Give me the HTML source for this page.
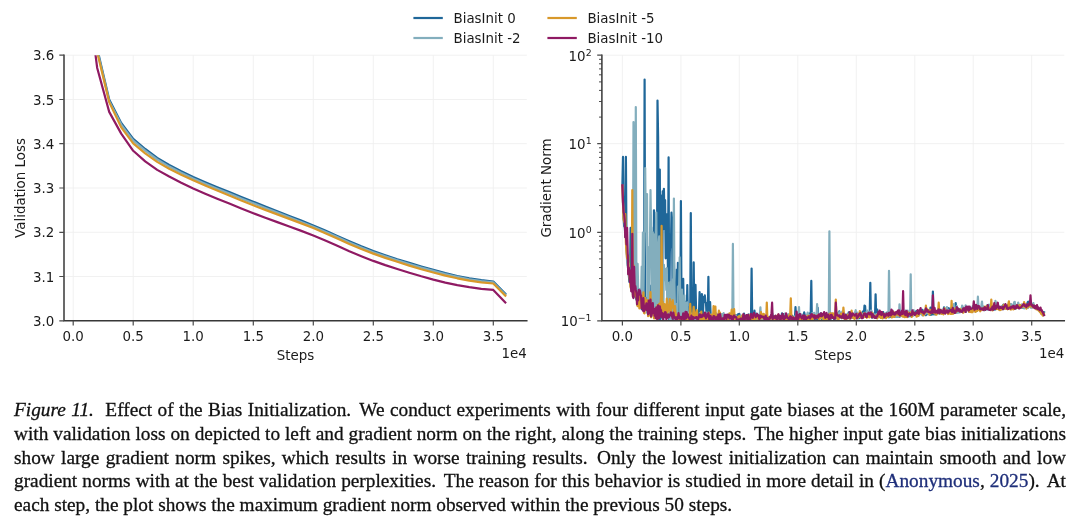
<!DOCTYPE html>
<html lang="en">
<head>
<meta charset="utf-8">
<title>Figure 11</title>
<style>
html,body{margin:0;padding:0;background:#fff;}
body{width:1080px;height:522px;position:relative;overflow:hidden;}
.ln{position:absolute;left:14px;width:1052px;height:24px;line-height:24px;white-space:nowrap;
 font-family:"Liberation Serif","Times New Roman",serif;font-size:19.31px;color:#111;-webkit-text-stroke:0.3px #111;
 text-align:justify;text-align-last:justify;}
.ln.last{text-align:left;text-align-last:left;width:auto;}
.c{color:#1f2f7a;-webkit-text-stroke:0.3px #1f2f7a;}
.sp{display:inline-block;width:6px;}
.s2{display:inline-block;width:3px;}
</style>
</head>
<body>
<svg width="1080" height="390" viewBox="0 0 1080 390" style="position:absolute;left:0;top:0" font-family="'DejaVu Sans', 'Liberation Sans', sans-serif" font-size="13.4" fill="#1a1a1a">
<defs><clipPath id="cl"><rect x="64.0" y="55.2" width="462.8" height="265.6"/></clipPath><clipPath id="cr"><rect x="601.9" y="55.2" width="462.4" height="265.6"/></clipPath></defs>
<path d="M73.2,55.2V320.8M622.4,55.2V320.8M133.2,55.2V320.8M680.9,55.2V320.8M193.2,55.2V320.8M739.3,55.2V320.8M253.3,55.2V320.8M797.8,55.2V320.8M313.3,55.2V320.8M856.3,55.2V320.8M373.3,55.2V320.8M914.8,55.2V320.8M433.3,55.2V320.8M973.2,55.2V320.8M493.3,55.2V320.8M1031.7,55.2V320.8M64.0,320.8H526.8M64.0,276.5H526.8M64.0,232.3H526.8M64.0,188.0H526.8M64.0,143.7H526.8M64.0,99.5H526.8M64.0,55.2H526.8M601.9,320.8H1064.3M601.9,232.3H1064.3M601.9,143.7H1064.3M601.9,55.2H1064.3" stroke="#efefef" stroke-width="0.9" fill="none"/>
<g clip-path="url(#cl)" fill="none" stroke-width="2.2" stroke-linejoin="round" stroke-linecap="square">
<path d="M85.2,-99.7L97.2,48.6L109.2,99.5L121.2,122.9L133.2,138.9L145.2,149.0L157.2,157.9L169.2,165.0L181.2,171.2L193.2,176.9L205.2,182.2L217.2,187.2L229.3,192.1L241.3,196.9L253.3,201.7L265.3,206.5L277.3,211.2L289.3,215.9L301.3,220.6L313.3,225.4L325.3,230.6L337.3,235.9L349.3,241.2L361.3,246.3L373.3,251.0L385.3,255.2L397.3,259.2L409.3,262.9L421.3,266.5L433.3,269.9L445.3,273.1L457.3,276.0L469.3,278.3L481.3,280.2L493.3,281.5L505.3,293.8" stroke="#1f6799"/>
<path d="M85.2,-95.3L97.2,50.3L109.2,101.2L121.2,124.6L133.2,140.6L145.2,150.7L157.2,159.5L169.2,166.6L181.2,172.8L193.2,178.5L205.2,183.7L217.2,188.7L229.3,193.6L241.3,198.4L253.3,203.2L265.3,207.9L277.3,212.6L289.3,217.2L301.3,221.9L313.3,226.8L325.3,231.8L337.3,237.1L349.3,242.5L361.3,247.5L373.3,252.2L385.3,256.4L397.3,260.3L409.3,264.0L421.3,267.6L433.3,270.9L445.3,274.1L457.3,276.9L469.3,279.3L481.3,281.1L493.3,282.4L505.3,294.7" stroke="#83aebd"/>
<path d="M85.2,-90.9L97.2,52.1L109.2,102.1L121.2,127.4L133.2,143.3L145.2,153.3L157.2,161.9L169.2,168.7L181.2,174.7L193.2,180.3L205.2,185.6L217.2,190.6L229.3,195.6L241.3,200.4L253.3,205.3L265.3,209.9L277.3,214.4L289.3,218.9L301.3,223.4L313.3,228.1L325.3,233.2L337.3,238.6L349.3,243.9L361.3,249.0L373.3,253.6L385.3,257.9L397.3,261.8L409.3,265.6L421.3,269.2L433.3,272.5L445.3,275.6L457.3,278.3L469.3,280.6L481.3,282.3L493.3,283.5L505.3,295.8" stroke="#d8982a"/>
<path d="M85.2,-24.5L97.2,68.0L109.2,111.9L121.2,133.6L133.2,150.8L145.2,161.4L157.2,169.9L169.2,176.5L181.2,182.7L193.2,188.4L205.2,193.7L217.2,198.7L229.3,203.6L241.3,208.4L253.3,213.2L265.3,217.7L277.3,222.1L289.3,226.5L301.3,230.9L313.3,235.5L325.3,240.5L337.3,245.8L349.3,251.2L361.3,256.2L373.3,260.9L385.3,265.1L397.3,269.0L409.3,272.7L421.3,276.3L433.3,279.6L445.3,282.6L457.3,285.2L469.3,287.2L481.3,288.9L493.3,289.9L505.3,302.5" stroke="#8f1a63"/>
</g>
<g clip-path="url(#cr)" fill="none" stroke-width="2.2" stroke-linejoin="round" stroke-linecap="square">
<path d="M622.4,185.2L623.0,156.9L623.6,218.0L624.2,226.3L624.7,222.4L625.3,237.1L625.9,156.9L626.5,246.6L627.1,255.8L627.7,262.4L628.2,270.2L628.8,274.8L629.4,281.8L630.0,279.9L630.6,227.9L631.2,273.0L631.8,278.9L632.3,284.0L632.9,294.4L633.5,281.3L634.1,292.4L634.7,293.8L635.3,296.7L635.8,295.1L636.4,299.5L637.0,298.2L637.6,305.2L638.2,300.7L638.8,288.8L639.4,301.7L639.9,302.6L640.5,298.2L641.1,297.4L641.7,309.2L642.3,304.3L642.9,297.9L643.4,302.6L644.0,304.0L644.6,79.6L645.2,309.7L645.8,305.4L646.4,309.7L647.0,297.8L647.5,313.0L648.1,311.4L648.7,310.7L649.3,304.3L649.9,285.6L650.5,300.9L651.1,316.4L651.6,305.1L652.2,310.9L652.8,313.3L653.4,306.9L654.0,210.3L654.6,317.9L655.1,258.9L655.7,263.0L656.3,316.4L656.9,311.0L657.5,100.5L658.1,136.7L658.7,243.1L659.2,319.6L659.8,169.6L660.4,319.0L661.0,211.8L661.6,195.5L662.2,317.8L662.7,191.3L663.3,229.3L663.9,188.8L664.5,220.5L665.1,200.2L665.7,258.3L666.3,214.2L666.8,254.0L667.4,228.7L668.0,274.6L668.6,157.4L669.2,320.3L669.8,253.3L670.3,235.8L670.9,247.1L671.5,212.5L672.1,220.0L672.7,315.5L673.3,318.8L673.9,261.0L674.4,280.7L675.0,316.6L675.6,318.7L676.2,317.8L676.8,269.5L677.4,302.7L677.9,262.8L678.5,318.9L679.1,316.1L679.7,302.7L680.3,318.5L680.9,201.1L681.5,304.6L682.0,315.6L682.6,300.5L683.2,278.8L683.8,313.1L684.4,312.0L685.0,301.5L685.5,318.6L686.1,307.7L686.7,318.7L687.3,285.1L687.9,317.4L688.5,307.0L689.1,320.4L689.6,318.0L690.2,316.2L690.8,213.0L691.4,319.0L692.0,320.3L692.6,318.3L693.1,320.2L693.7,262.4L694.3,320.0L694.9,309.6L695.5,284.8L696.1,312.0L696.7,318.5L697.2,314.3L697.8,318.3L698.4,317.0L699.0,312.7L699.6,292.2L700.2,318.2L700.7,308.0L701.3,317.4L701.9,294.1L702.5,318.9L703.1,310.3L703.7,296.8L704.3,300.4L704.8,295.4L705.4,302.5L706.0,302.7L706.6,315.8L707.2,319.5L707.8,314.4L708.4,276.8L708.9,317.2L709.5,314.7L710.1,302.1L710.7,315.7L711.3,320.4L711.9,318.9L712.4,317.4L713.0,316.8L713.6,318.2L714.2,317.4L714.8,318.6L715.4,318.5L716.0,319.1L716.5,320.8L717.1,319.2L717.7,317.0L718.3,320.0L718.9,318.6L719.5,317.0L720.0,320.3L720.6,318.5L721.2,320.7L721.8,314.5L722.4,314.7L723.0,314.6L723.6,318.4L724.1,316.7L724.7,317.8L725.3,318.1L725.9,315.5L726.5,320.3L727.1,316.1L727.6,317.6L728.2,314.7L728.8,315.8L729.4,318.3L730.0,317.0L730.6,315.2L731.2,318.0L731.7,316.7L732.3,318.1L732.9,320.5L733.5,313.7L734.1,315.3L734.7,316.1L735.2,316.5L735.8,315.1L736.4,317.8L737.0,318.5L737.6,317.1L738.2,314.1L738.8,318.3L739.3,313.9L739.9,315.9L740.5,319.8L741.1,316.4L741.7,318.8L742.3,320.8L742.8,319.4L743.4,317.3L744.0,313.6L744.6,320.3L745.2,318.4L745.8,317.6L746.4,319.8L746.9,318.0L747.5,319.4L748.1,320.7L748.7,320.6L749.3,319.6L749.9,319.3L750.4,319.7L751.0,319.3L751.6,268.5L752.2,318.6L752.8,317.8L753.4,317.4L754.0,318.3L754.5,310.7L755.1,319.5L755.7,316.2L756.3,317.6L756.9,313.7L757.5,314.4L758.1,320.8L758.6,319.8L759.2,317.4L759.8,317.3L760.4,317.2L761.0,318.3L761.6,317.0L762.1,316.4L762.7,317.9L763.3,316.3L763.9,320.8L764.5,319.2L765.1,320.8L765.7,319.8L766.2,320.8L766.8,320.8L767.4,318.4L768.0,320.1L768.6,319.9L769.2,320.8L769.7,317.9L770.3,316.9L770.9,315.7L771.5,317.6L772.1,313.2L772.7,317.2L773.3,317.5L773.8,316.7L774.4,316.1L775.0,318.6L775.6,318.6L776.2,318.4L776.8,317.0L777.3,319.9L777.9,316.2L778.5,318.4L779.1,315.9L779.7,317.9L780.3,316.4L780.9,316.7L781.4,318.9L782.0,313.3L782.6,318.0L783.2,314.0L783.8,316.9L784.4,319.1L784.9,318.6L785.5,316.8L786.1,315.8L786.7,316.5L787.3,316.9L787.9,320.1L788.5,318.0L789.0,320.4L789.6,317.0L790.2,318.0L790.8,317.4L791.4,316.3L792.0,315.6L792.5,319.2L793.1,320.1L793.7,319.0L794.3,320.3L794.9,318.3L795.5,307.1L796.1,318.5L796.6,315.8L797.2,319.4L797.8,316.5L798.4,317.2L799.0,316.9L799.6,316.2L800.1,314.5L800.7,316.4L801.3,317.5L801.9,319.1L802.5,316.4L803.1,318.0L803.7,316.5L804.2,312.4L804.8,315.5L805.4,320.1L806.0,317.1L806.6,315.8L807.2,317.4L807.7,317.9L808.3,316.8L808.9,319.1L809.5,316.9L810.1,313.2L810.7,315.3L811.3,280.9L811.8,317.9L812.4,316.9L813.0,314.9L813.6,318.5L814.2,319.0L814.8,316.5L815.4,316.7L815.9,318.4L816.5,318.7L817.1,319.1L817.7,307.9L818.3,318.8L818.9,313.8L819.4,316.2L820.0,314.8L820.6,313.4L821.2,315.0L821.8,319.0L822.4,315.3L823.0,314.4L823.5,317.7L824.1,318.5L824.7,317.5L825.3,319.5L825.9,314.6L826.5,319.0L827.0,318.4L827.6,316.9L828.2,316.9L828.8,314.9L829.4,315.6L830.0,316.0L830.6,313.2L831.1,318.7L831.7,315.5L832.3,317.6L832.9,317.2L833.5,317.5L834.1,319.1L834.6,318.6L835.2,315.5L835.8,316.1L836.4,318.0L837.0,313.7L837.6,312.9L838.2,318.7L838.7,314.9L839.3,311.4L839.9,314.2L840.5,315.8L841.1,317.2L841.7,318.0L842.2,317.5L842.8,317.9L843.4,314.7L844.0,316.5L844.6,315.8L845.2,316.6L845.8,314.7L846.3,316.5L846.9,315.7L847.5,314.3L848.1,316.0L848.7,312.4L849.3,316.6L849.8,316.8L850.4,316.3L851.0,316.4L851.6,314.5L852.2,317.6L852.8,314.1L853.4,316.3L853.9,317.2L854.5,316.1L855.1,316.4L855.7,315.1L856.3,316.9L856.9,314.0L857.4,317.4L858.0,318.3L858.6,316.8L859.2,318.2L859.8,314.6L860.4,312.7L861.0,313.5L861.5,316.9L862.1,316.2L862.7,311.7L863.3,313.6L863.9,314.1L864.5,305.5L865.1,306.0L865.6,313.5L866.2,315.9L866.8,315.4L867.4,314.4L868.0,316.4L868.6,316.8L869.1,315.3L869.7,316.8L870.3,282.8L870.9,315.9L871.5,312.2L872.1,317.6L872.7,316.6L873.2,316.8L873.8,315.8L874.4,314.6L875.0,316.8L875.6,294.3L876.2,317.8L876.7,317.3L877.3,309.5L877.9,315.4L878.5,316.6L879.1,315.3L879.7,314.3L880.3,313.8L880.8,315.7L881.4,315.2L882.0,317.5L882.6,316.5L883.2,312.0L883.8,317.5L884.3,315.4L884.9,314.6L885.5,315.5L886.1,316.1L886.7,314.9L887.3,315.0L887.9,315.4L888.4,317.2L889.0,316.2L889.6,317.2L890.2,316.8L890.8,315.1L891.4,314.4L891.9,314.3L892.5,316.6L893.1,314.4L893.7,313.9L894.3,313.4L894.9,312.8L895.5,315.1L896.0,314.9L896.6,313.5L897.2,316.8L897.8,314.9L898.4,316.3L899.0,315.6L899.5,316.7L900.1,315.3L900.7,313.6L901.3,311.7L901.9,311.6L902.5,313.5L903.1,314.0L903.6,316.0L904.2,314.5L904.8,315.6L905.4,314.0L906.0,310.9L906.6,314.3L907.1,316.4L907.7,316.0L908.3,316.3L908.9,316.3L909.5,312.6L910.1,313.9L910.7,316.2L911.2,313.2L911.8,312.4L912.4,315.1L913.0,315.5L913.6,314.5L914.2,312.8L914.8,312.3L915.3,311.8L915.9,312.3L916.5,311.1L917.1,312.2L917.7,313.0L918.3,315.8L918.8,313.8L919.4,312.2L920.0,313.5L920.6,310.7L921.2,312.2L921.8,313.0L922.4,309.8L922.9,311.7L923.5,312.9L924.1,312.2L924.7,310.3L925.3,312.8L925.9,315.2L926.4,313.8L927.0,313.3L927.6,314.2L928.2,312.6L928.8,311.5L929.4,314.1L930.0,314.8L930.5,307.7L931.1,313.5L931.7,314.7L932.3,312.9L932.9,291.5L933.5,314.3L934.0,312.5L934.6,314.2L935.2,314.4L935.8,312.6L936.4,311.4L937.0,313.4L937.6,312.0L938.1,312.8L938.7,308.7L939.3,313.7L939.9,310.6L940.5,310.7L941.1,312.4L941.6,311.0L942.2,310.5L942.8,310.1L943.4,311.3L944.0,307.4L944.6,312.6L945.2,310.7L945.7,310.5L946.3,309.3L946.9,310.5L947.5,309.8L948.1,309.0L948.7,308.1L949.2,313.0L949.8,312.5L950.4,312.8L951.0,308.4L951.6,311.4L952.2,308.7L952.8,309.7L953.3,308.9L953.9,309.8L954.5,311.9L955.1,312.4L955.7,303.1L956.3,311.9L956.8,312.5L957.4,311.2L958.0,308.5L958.6,312.0L959.2,309.1L959.8,310.2L960.4,309.2L960.9,308.9L961.5,310.5L962.1,309.9L962.7,312.2L963.3,308.9L963.9,310.7L964.4,309.0L965.0,309.4L965.6,312.0L966.2,310.4L966.8,309.0L967.4,307.3L968.0,308.6L968.5,308.9L969.1,311.4L969.7,308.3L970.3,308.2L970.9,310.3L971.5,310.4L972.1,311.5L972.6,309.0L973.2,307.1L973.8,309.7L974.4,307.9L975.0,310.1L975.6,311.2L976.1,308.4L976.7,310.9L977.3,309.3L977.9,308.9L978.5,308.4L979.1,309.1L979.7,309.3L980.2,310.0L980.8,310.0L981.4,306.7L982.0,308.2L982.6,308.8L983.2,307.0L983.7,308.5L984.3,310.2L984.9,309.6L985.5,309.7L986.1,307.4L986.7,307.0L987.3,305.3L987.8,309.3L988.4,308.3L989.0,306.5L989.6,307.2L990.2,308.0L990.8,306.0L991.3,308.3L991.9,309.2L992.5,309.4L993.1,307.6L993.7,308.0L994.3,309.7L994.9,309.6L995.4,307.8L996.0,307.4L996.6,308.3L997.2,306.6L997.8,306.4L998.4,308.0L998.9,307.4L999.5,306.8L1000.1,308.0L1000.7,309.3L1001.3,308.1L1001.9,306.8L1002.5,305.9L1003.0,309.2L1003.6,304.5L1004.2,308.7L1004.8,306.3L1005.4,306.0L1006.0,306.1L1006.5,306.7L1007.1,307.7L1007.7,305.1L1008.3,306.2L1008.9,308.0L1009.5,304.0L1010.1,305.2L1010.6,304.4L1011.2,307.7L1011.8,305.4L1012.4,305.5L1013.0,305.9L1013.6,307.8L1014.1,308.6L1014.7,308.1L1015.3,308.6L1015.9,308.5L1016.5,306.7L1017.1,307.6L1017.7,306.7L1018.2,306.7L1018.8,304.7L1019.4,305.6L1020.0,307.0L1020.6,305.6L1021.2,307.5L1021.8,307.0L1022.3,305.7L1022.9,308.0L1023.5,307.2L1024.1,308.1L1024.7,306.8L1025.3,304.8L1025.8,306.8L1026.4,305.2L1027.0,306.0L1027.6,302.5L1028.2,301.7L1028.8,303.6L1029.4,303.2L1029.9,304.8L1030.5,306.1L1031.1,304.6L1031.7,305.4L1032.3,304.2L1032.9,304.6L1033.4,304.8L1034.0,305.0L1034.6,306.7L1035.2,307.2L1035.8,308.6L1036.4,307.4L1037.0,308.7L1037.5,307.9L1038.1,309.6L1038.7,309.3L1039.3,309.5L1039.9,311.6L1040.5,312.0L1041.0,312.8L1041.6,311.8L1042.2,311.4L1042.8,312.2L1043.4,313.7L1044.0,312.3" stroke="#1f6799"/>
<path d="M622.4,185.2L623.0,204.1L623.6,216.5L624.2,220.2L624.7,222.5L625.3,232.9L625.9,229.9L626.5,244.5L627.1,261.6L627.7,265.6L628.2,266.2L628.8,263.6L629.4,275.6L630.0,279.1L630.6,286.3L631.2,279.4L631.8,288.5L632.3,291.5L632.9,285.6L633.5,122.0L634.1,179.0L634.7,163.4L635.3,287.2L635.8,107.1L636.4,291.3L637.0,292.4L637.6,263.8L638.2,290.3L638.8,301.8L639.4,295.2L639.9,308.0L640.5,288.8L641.1,299.1L641.7,266.7L642.3,305.6L642.9,232.5L643.4,295.4L644.0,257.1L644.6,235.9L645.2,168.1L645.8,231.4L646.4,227.3L647.0,194.1L647.5,298.5L648.1,308.4L648.7,247.3L649.3,299.2L649.9,250.7L650.5,190.0L651.1,230.3L651.6,227.7L652.2,306.4L652.8,232.4L653.4,244.6L654.0,261.6L654.6,317.9L655.1,234.0L655.7,240.8L656.3,212.5L656.9,316.6L657.5,308.1L658.1,261.0L658.7,241.8L659.2,236.3L659.8,306.4L660.4,285.6L661.0,310.0L661.6,286.5L662.2,287.8L662.7,319.9L663.3,315.0L663.9,264.8L664.5,275.2L665.1,280.1L665.7,269.0L666.3,289.9L666.8,268.2L667.4,316.2L668.0,282.7L668.6,311.2L669.2,312.1L669.8,319.7L670.3,282.2L670.9,295.4L671.5,307.4L672.1,320.0L672.7,279.3L673.3,317.3L673.9,198.6L674.4,282.0L675.0,312.5L675.6,316.4L676.2,304.1L676.8,315.6L677.4,317.1L677.9,286.7L678.5,289.8L679.1,288.9L679.7,257.4L680.3,315.7L680.9,317.0L681.5,316.0L682.0,289.6L682.6,313.4L683.2,313.5L683.8,314.1L684.4,295.4L685.0,316.9L685.5,302.7L686.1,303.6L686.7,318.9L687.3,302.4L687.9,318.2L688.5,318.8L689.1,315.4L689.6,312.4L690.2,315.2L690.8,313.2L691.4,316.4L692.0,317.0L692.6,318.1L693.1,317.7L693.7,314.4L694.3,319.7L694.9,314.1L695.5,317.7L696.1,315.4L696.7,314.9L697.2,315.9L697.8,317.0L698.4,320.4L699.0,317.1L699.6,318.9L700.2,312.8L700.7,316.5L701.3,316.1L701.9,317.8L702.5,316.6L703.1,319.2L703.7,316.7L704.3,318.4L704.8,316.1L705.4,317.6L706.0,316.8L706.6,312.6L707.2,317.8L707.8,319.4L708.4,315.9L708.9,318.8L709.5,317.3L710.1,314.9L710.7,317.7L711.3,314.7L711.9,318.3L712.4,315.1L713.0,316.0L713.6,319.3L714.2,318.0L714.8,318.2L715.4,315.7L716.0,313.4L716.5,317.9L717.1,314.4L717.7,318.4L718.3,317.7L718.9,319.8L719.5,313.1L720.0,316.4L720.6,315.7L721.2,317.2L721.8,314.2L722.4,318.8L723.0,316.0L723.6,313.1L724.1,316.7L724.7,316.3L725.3,315.8L725.9,319.2L726.5,318.4L727.1,317.2L727.6,318.8L728.2,318.4L728.8,319.5L729.4,318.4L730.0,318.4L730.6,315.6L731.2,316.7L731.7,318.4L732.3,320.8L732.9,243.9L733.5,317.7L734.1,320.2L734.7,320.8L735.2,319.4L735.8,315.7L736.4,319.6L737.0,319.4L737.6,318.9L738.2,317.5L738.8,319.5L739.3,319.4L739.9,319.4L740.5,315.3L741.1,316.4L741.7,318.6L742.3,320.8L742.8,320.2L743.4,317.4L744.0,318.1L744.6,315.5L745.2,316.1L745.8,316.0L746.4,315.6L746.9,315.8L747.5,318.4L748.1,318.1L748.7,314.0L749.3,320.8L749.9,320.0L750.4,317.4L751.0,319.2L751.6,319.7L752.2,320.2L752.8,316.8L753.4,315.7L754.0,315.0L754.5,317.0L755.1,315.1L755.7,319.0L756.3,317.4L756.9,319.4L757.5,317.9L758.1,316.7L758.6,315.8L759.2,319.1L759.8,315.0L760.4,307.3L761.0,319.2L761.6,317.5L762.1,319.9L762.7,317.9L763.3,315.8L763.9,319.9L764.5,318.7L765.1,319.7L765.7,318.3L766.2,319.9L766.8,317.1L767.4,319.0L768.0,318.6L768.6,318.1L769.2,317.5L769.7,320.1L770.3,320.2L770.9,318.5L771.5,318.1L772.1,319.1L772.7,318.1L773.3,317.2L773.8,318.1L774.4,318.4L775.0,320.0L775.6,319.7L776.2,318.8L776.8,318.1L777.3,318.4L777.9,318.8L778.5,318.8L779.1,317.0L779.7,317.3L780.3,317.0L780.9,317.4L781.4,318.9L782.0,319.9L782.6,317.2L783.2,317.0L783.8,316.1L784.4,318.2L784.9,313.7L785.5,319.0L786.1,317.9L786.7,317.0L787.3,319.2L787.9,316.8L788.5,314.2L789.0,316.0L789.6,314.4L790.2,317.7L790.8,318.8L791.4,317.4L792.0,319.1L792.5,319.3L793.1,318.3L793.7,316.5L794.3,317.2L794.9,316.4L795.5,320.3L796.1,314.8L796.6,312.8L797.2,314.1L797.8,317.2L798.4,318.2L799.0,307.0L799.6,318.8L800.1,316.0L800.7,318.2L801.3,315.5L801.9,314.5L802.5,319.9L803.1,315.6L803.7,317.6L804.2,319.1L804.8,318.1L805.4,317.8L806.0,315.6L806.6,319.6L807.2,314.8L807.7,312.6L808.3,314.5L808.9,314.8L809.5,316.2L810.1,318.7L810.7,316.5L811.3,316.8L811.8,315.7L812.4,313.0L813.0,315.4L813.6,315.6L814.2,312.9L814.8,317.6L815.4,317.6L815.9,316.3L816.5,317.1L817.1,304.1L817.7,316.7L818.3,313.6L818.9,314.2L819.4,315.9L820.0,317.9L820.6,316.0L821.2,315.4L821.8,318.2L822.4,315.4L823.0,314.6L823.5,315.5L824.1,313.4L824.7,314.3L825.3,317.8L825.9,316.2L826.5,318.0L827.0,315.6L827.6,318.4L828.2,315.8L828.8,316.9L829.4,231.3L830.0,318.3L830.6,319.3L831.1,315.2L831.7,318.1L832.3,315.0L832.9,316.6L833.5,316.2L834.1,314.4L834.6,317.1L835.2,314.6L835.8,318.9L836.4,312.6L837.0,315.3L837.6,316.2L838.2,315.8L838.7,314.9L839.3,312.3L839.9,317.9L840.5,315.0L841.1,316.6L841.7,313.9L842.2,311.7L842.8,315.5L843.4,317.4L844.0,313.9L844.6,314.6L845.2,316.4L845.8,315.7L846.3,318.6L846.9,315.7L847.5,314.7L848.1,317.2L848.7,313.9L849.3,318.5L849.8,318.5L850.4,318.0L851.0,316.4L851.6,315.5L852.2,315.6L852.8,315.7L853.4,314.5L853.9,316.1L854.5,317.4L855.1,312.2L855.7,310.2L856.3,318.3L856.9,315.3L857.4,312.6L858.0,314.3L858.6,317.0L859.2,315.8L859.8,314.3L860.4,314.0L861.0,317.5L861.5,314.6L862.1,315.6L862.7,314.1L863.3,313.5L863.9,316.5L864.5,314.3L865.1,315.2L865.6,312.7L866.2,314.2L866.8,314.5L867.4,310.6L868.0,316.0L868.6,312.7L869.1,314.9L869.7,313.6L870.3,313.0L870.9,310.5L871.5,310.9L872.1,314.1L872.7,316.4L873.2,313.3L873.8,315.3L874.4,314.4L875.0,317.5L875.6,316.7L876.2,314.4L876.7,315.9L877.3,313.9L877.9,313.7L878.5,315.2L879.1,317.1L879.7,313.1L880.3,314.5L880.8,313.5L881.4,317.6L882.0,317.5L882.6,317.5L883.2,317.5L883.8,314.7L884.3,314.3L884.9,314.7L885.5,313.9L886.1,312.8L886.7,314.8L887.3,312.1L887.9,314.2L888.4,317.2L889.0,270.8L889.6,312.4L890.2,311.4L890.8,314.4L891.4,314.8L891.9,314.1L892.5,311.6L893.1,314.7L893.7,316.7L894.3,317.0L894.9,316.9L895.5,316.9L896.0,316.9L896.6,313.7L897.2,313.6L897.8,316.8L898.4,313.3L899.0,314.2L899.5,304.4L900.1,313.1L900.7,316.4L901.3,315.0L901.9,315.6L902.5,315.2L903.1,312.3L903.6,316.5L904.2,316.2L904.8,315.6L905.4,310.7L906.0,313.7L906.6,311.7L907.1,314.8L907.7,310.6L908.3,315.4L908.9,314.3L909.5,315.3L910.1,312.9L910.7,274.3L911.2,314.7L911.8,314.1L912.4,311.9L913.0,315.0L913.6,310.2L914.2,315.1L914.8,312.9L915.3,313.1L915.9,314.7L916.5,314.7L917.1,312.4L917.7,312.8L918.3,315.8L918.8,313.5L919.4,313.1L920.0,311.9L920.6,313.5L921.2,314.3L921.8,314.0L922.4,315.4L922.9,314.0L923.5,314.9L924.1,312.9L924.7,314.5L925.3,312.8L925.9,313.3L926.4,308.4L927.0,311.3L927.6,313.5L928.2,312.3L928.8,314.3L929.4,311.7L930.0,311.2L930.5,312.0L931.1,312.1L931.7,310.3L932.3,311.5L932.9,311.9L933.5,309.4L934.0,311.2L934.6,310.8L935.2,310.9L935.8,312.4L936.4,313.1L937.0,310.7L937.6,313.0L938.1,311.8L938.7,310.3L939.3,310.3L939.9,312.1L940.5,313.3L941.1,311.4L941.6,311.4L942.2,309.6L942.8,311.2L943.4,310.8L944.0,309.4L944.6,310.8L945.2,310.8L945.7,308.6L946.3,309.0L946.9,307.1L947.5,310.6L948.1,309.9L948.7,310.4L949.2,311.4L949.8,311.3L950.4,310.6L951.0,312.1L951.6,312.4L952.2,311.1L952.8,310.3L953.3,311.4L953.9,304.0L954.5,312.9L955.1,312.5L955.7,312.6L956.3,311.0L956.8,306.2L957.4,312.6L958.0,311.8L958.6,312.6L959.2,312.5L959.8,312.5L960.4,311.9L960.9,308.9L961.5,311.7L962.1,305.5L962.7,306.5L963.3,309.7L963.9,309.7L964.4,310.8L965.0,310.4L965.6,305.4L966.2,310.3L966.8,308.9L967.4,306.8L968.0,309.1L968.5,309.4L969.1,309.8L969.7,309.3L970.3,311.0L970.9,309.0L971.5,309.0L972.1,309.8L972.6,306.3L973.2,309.8L973.8,309.9L974.4,309.0L975.0,311.3L975.6,310.6L976.1,311.2L976.7,310.9L977.3,309.9L977.9,296.7L978.5,308.1L979.1,308.1L979.7,307.3L980.2,308.1L980.8,309.2L981.4,305.7L982.0,301.5L982.6,308.8L983.2,306.3L983.7,307.3L984.3,307.7L984.9,307.1L985.5,307.0L986.1,308.8L986.7,308.1L987.3,305.7L987.8,308.1L988.4,309.0L989.0,304.7L989.6,306.5L990.2,307.5L990.8,306.6L991.3,306.8L991.9,307.7L992.5,307.5L993.1,308.5L993.7,309.8L994.3,309.5L994.9,307.3L995.4,300.9L996.0,303.1L996.6,308.2L997.2,306.2L997.8,308.0L998.4,307.6L998.9,307.9L999.5,307.5L1000.1,308.8L1000.7,307.6L1001.3,308.8L1001.9,309.0L1002.5,306.5L1003.0,307.1L1003.6,308.9L1004.2,308.2L1004.8,307.4L1005.4,305.8L1006.0,306.4L1006.5,306.5L1007.1,308.2L1007.7,307.5L1008.3,305.4L1008.9,306.6L1009.5,306.0L1010.1,306.3L1010.6,304.0L1011.2,304.1L1011.8,306.2L1012.4,307.4L1013.0,304.5L1013.6,307.2L1014.1,302.3L1014.7,301.8L1015.3,306.1L1015.9,304.7L1016.5,305.7L1017.1,305.2L1017.7,305.8L1018.2,302.5L1018.8,306.0L1019.4,306.8L1020.0,305.7L1020.6,307.2L1021.2,307.2L1021.8,304.4L1022.3,307.6L1022.9,307.4L1023.5,306.5L1024.1,307.9L1024.7,308.1L1025.3,305.4L1025.8,307.6L1026.4,307.4L1027.0,307.4L1027.6,307.9L1028.2,307.9L1028.8,306.5L1029.4,304.2L1029.9,305.7L1030.5,305.9L1031.1,307.8L1031.7,306.3L1032.3,307.5L1032.9,305.1L1033.4,303.1L1034.0,306.5L1034.6,307.0L1035.2,308.2L1035.8,306.8L1036.4,306.9L1037.0,308.9L1037.5,308.9L1038.1,308.7L1038.7,310.1L1039.3,310.1L1039.9,310.2L1040.5,311.2L1041.0,311.8L1041.6,312.2L1042.2,311.7L1042.8,314.9L1043.4,313.0L1044.0,315.1" stroke="#83aebd"/>
<path d="M622.4,185.8L623.0,202.6L623.6,219.2L624.2,221.7L624.7,217.9L625.3,214.1L625.9,242.8L626.5,252.5L627.1,258.4L627.7,258.6L628.2,255.5L628.8,274.3L629.4,274.4L630.0,281.4L630.6,287.7L631.2,281.6L631.8,281.5L632.3,190.0L632.9,295.6L633.5,265.4L634.1,288.6L634.7,288.1L635.3,295.7L635.8,296.5L636.4,292.0L637.0,300.4L637.6,306.1L638.2,300.3L638.8,295.3L639.4,308.4L639.9,294.6L640.5,297.1L641.1,307.7L641.7,302.5L642.3,303.3L642.9,299.4L643.4,292.3L644.0,312.8L644.6,313.3L645.2,297.9L645.8,306.0L646.4,304.7L647.0,303.2L647.5,300.0L648.1,316.1L648.7,303.9L649.3,315.4L649.9,305.8L650.5,292.1L651.1,317.3L651.6,307.5L652.2,311.9L652.8,312.9L653.4,311.9L654.0,318.5L654.6,318.3L655.1,309.2L655.7,308.1L656.3,312.3L656.9,319.7L657.5,305.2L658.1,308.1L658.7,308.8L659.2,303.8L659.8,313.0L660.4,309.8L661.0,296.8L661.6,225.9L662.2,314.3L662.7,301.9L663.3,316.0L663.9,315.0L664.5,304.1L665.1,312.7L665.7,316.8L666.3,315.7L666.8,298.7L667.4,312.5L668.0,310.5L668.6,304.8L669.2,306.3L669.8,299.0L670.3,312.8L670.9,314.8L671.5,302.1L672.1,302.7L672.7,300.2L673.3,308.0L673.9,307.6L674.4,317.2L675.0,306.0L675.6,313.8L676.2,314.7L676.8,314.9L677.4,317.9L677.9,318.2L678.5,315.4L679.1,320.4L679.7,318.2L680.3,321.3L680.9,319.3L681.5,320.0L682.0,317.9L682.6,318.0L683.2,320.6L683.8,319.7L684.4,319.1L685.0,319.7L685.5,315.6L686.1,318.7L686.7,319.4L687.3,321.2L687.9,321.2L688.5,321.1L689.1,314.8L689.6,321.1L690.2,303.9L690.8,316.4L691.4,316.0L692.0,319.5L692.6,320.1L693.1,314.4L693.7,306.9L694.3,317.2L694.9,312.4L695.5,317.7L696.1,316.4L696.7,310.0L697.2,313.5L697.8,319.4L698.4,318.2L699.0,317.4L699.6,317.9L700.2,321.2L700.7,318.3L701.3,311.5L701.9,319.5L702.5,318.3L703.1,321.3L703.7,317.8L704.3,321.3L704.8,321.3L705.4,319.8L706.0,315.0L706.6,320.1L707.2,321.0L707.8,318.0L708.4,318.2L708.9,312.7L709.5,320.8L710.1,321.5L710.7,319.6L711.3,314.6L711.9,318.9L712.4,317.2L713.0,318.7L713.6,306.1L714.2,318.3L714.8,310.0L715.4,306.5L716.0,321.6L716.5,316.0L717.1,317.4L717.7,319.9L718.3,316.4L718.9,310.7L719.5,317.3L720.0,312.6L720.6,320.0L721.2,319.2L721.8,318.9L722.4,319.5L723.0,319.0L723.6,318.9L724.1,319.7L724.7,318.5L725.3,320.0L725.9,319.7L726.5,317.1L727.1,316.8L727.6,319.1L728.2,319.1L728.8,318.3L729.4,313.4L730.0,318.4L730.6,314.7L731.2,313.9L731.7,309.7L732.3,318.6L732.9,321.0L733.5,319.6L734.1,309.0L734.7,318.3L735.2,320.7L735.8,318.0L736.4,317.9L737.0,321.5L737.6,317.4L738.2,316.7L738.8,319.5L739.3,316.2L739.9,317.8L740.5,318.9L741.1,321.1L741.7,320.7L742.3,315.4L742.8,318.7L743.4,317.8L744.0,320.3L744.6,320.0L745.2,320.2L745.8,321.6L746.4,321.6L746.9,318.6L747.5,318.9L748.1,320.2L748.7,318.6L749.3,317.5L749.9,315.4L750.4,320.9L751.0,318.4L751.6,315.9L752.2,320.0L752.8,317.4L753.4,321.5L754.0,317.2L754.5,319.3L755.1,321.5L755.7,317.6L756.3,316.7L756.9,316.3L757.5,316.4L758.1,318.5L758.6,320.1L759.2,320.1L759.8,319.1L760.4,318.5L761.0,312.2L761.6,318.3L762.1,316.9L762.7,317.3L763.3,313.9L763.9,314.0L764.5,320.4L765.1,319.9L765.7,320.8L766.2,320.5L766.8,302.5L767.4,319.5L768.0,319.9L768.6,318.7L769.2,317.2L769.7,319.7L770.3,319.8L770.9,317.6L771.5,318.2L772.1,318.1L772.7,317.5L773.3,321.2L773.8,319.1L774.4,321.2L775.0,316.2L775.6,318.7L776.2,321.5L776.8,316.5L777.3,320.1L777.9,314.8L778.5,315.8L779.1,318.0L779.7,318.9L780.3,317.9L780.9,318.1L781.4,319.4L782.0,317.1L782.6,320.9L783.2,318.6L783.8,318.7L784.4,321.3L784.9,317.7L785.5,320.3L786.1,316.4L786.7,319.9L787.3,319.8L787.9,318.0L788.5,320.2L789.0,315.7L789.6,314.7L790.2,314.8L790.8,298.4L791.4,317.7L792.0,319.8L792.5,318.2L793.1,317.2L793.7,318.1L794.3,319.1L794.9,321.1L795.5,317.9L796.1,318.3L796.6,321.0L797.2,318.7L797.8,317.5L798.4,317.5L799.0,318.1L799.6,318.1L800.1,320.9L800.7,320.3L801.3,318.6L801.9,317.5L802.5,316.1L803.1,320.9L803.7,317.9L804.2,316.8L804.8,316.6L805.4,316.4L806.0,320.8L806.6,319.4L807.2,319.7L807.7,315.8L808.3,319.9L808.9,315.8L809.5,316.4L810.1,317.6L810.7,319.6L811.3,319.8L811.8,317.2L812.4,320.4L813.0,317.6L813.6,315.2L814.2,315.1L814.8,316.2L815.4,316.4L815.9,317.7L816.5,316.9L817.1,317.4L817.7,315.3L818.3,318.1L818.9,316.3L819.4,320.5L820.0,315.4L820.6,317.6L821.2,315.1L821.8,317.3L822.4,316.7L823.0,316.2L823.5,320.2L824.1,318.9L824.7,319.0L825.3,318.0L825.9,320.2L826.5,318.1L827.0,317.9L827.6,318.6L828.2,317.1L828.8,319.2L829.4,314.2L830.0,315.7L830.6,313.2L831.1,317.6L831.7,317.3L832.3,314.4L832.9,313.2L833.5,314.5L834.1,316.8L834.6,316.8L835.2,316.3L835.8,299.5L836.4,313.4L837.0,315.7L837.6,319.2L838.2,315.4L838.7,319.3L839.3,316.3L839.9,315.9L840.5,317.2L841.1,313.5L841.7,317.2L842.2,317.9L842.8,317.9L843.4,307.5L844.0,314.4L844.6,319.1L845.2,319.4L845.8,316.3L846.3,319.4L846.9,317.4L847.5,314.7L848.1,316.7L848.7,317.5L849.3,318.2L849.8,318.5L850.4,317.9L851.0,316.9L851.6,310.6L852.2,315.1L852.8,317.7L853.4,317.8L853.9,314.8L854.5,319.1L855.1,317.5L855.7,316.8L856.3,317.7L856.9,316.9L857.4,314.2L858.0,317.9L858.6,316.5L859.2,316.1L859.8,311.2L860.4,317.1L861.0,312.8L861.5,315.4L862.1,315.9L862.7,316.1L863.3,316.7L863.9,317.3L864.5,313.4L865.1,315.2L865.6,316.4L866.2,314.7L866.8,317.8L867.4,315.5L868.0,315.9L868.6,317.1L869.1,313.8L869.7,317.3L870.3,313.3L870.9,316.1L871.5,314.1L872.1,312.9L872.7,314.9L873.2,317.2L873.8,316.2L874.4,316.3L875.0,317.4L875.6,317.2L876.2,315.5L876.7,315.1L877.3,318.5L877.9,316.2L878.5,314.7L879.1,315.1L879.7,317.0L880.3,313.8L880.8,318.0L881.4,314.9L882.0,312.8L882.6,318.3L883.2,314.1L883.8,314.0L884.3,313.8L884.9,317.1L885.5,315.8L886.1,318.1L886.7,316.8L887.3,315.5L887.9,316.9L888.4,317.0L889.0,315.9L889.6,315.4L890.2,315.7L890.8,316.0L891.4,315.8L891.9,317.5L892.5,313.3L893.1,313.6L893.7,312.0L894.3,317.0L894.9,315.6L895.5,314.6L896.0,313.8L896.6,314.6L897.2,313.2L897.8,315.0L898.4,314.0L899.0,314.2L899.5,316.0L900.1,313.6L900.7,314.3L901.3,313.6L901.9,315.8L902.5,313.2L903.1,316.7L903.6,314.6L904.2,315.9L904.8,317.2L905.4,315.1L906.0,316.8L906.6,315.6L907.1,317.1L907.7,312.0L908.3,313.2L908.9,314.0L909.5,313.3L910.1,313.8L910.7,312.4L911.2,314.6L911.8,316.9L912.4,313.7L913.0,312.2L913.6,313.1L914.2,314.6L914.8,312.8L915.3,313.7L915.9,313.2L916.5,316.6L917.1,316.5L917.7,314.3L918.3,315.8L918.8,314.3L919.4,310.7L920.0,313.1L920.6,311.3L921.2,312.4L921.8,312.8L922.4,312.5L922.9,315.1L923.5,315.4L924.1,311.3L924.7,313.6L925.3,311.5L925.9,305.5L926.4,311.2L927.0,309.9L927.6,309.5L928.2,312.4L928.8,310.5L929.4,314.6L930.0,313.5L930.5,309.9L931.1,313.1L931.7,310.2L932.3,312.7L932.9,311.0L933.5,312.0L934.0,311.5L934.6,313.6L935.2,313.7L935.8,311.9L936.4,314.7L937.0,313.5L937.6,311.3L938.1,312.9L938.7,302.7L939.3,313.5L939.9,312.3L940.5,313.4L941.1,313.3L941.6,313.9L942.2,310.3L942.8,312.9L943.4,314.4L944.0,311.1L944.6,308.4L945.2,312.2L945.7,310.6L946.3,311.5L946.9,312.9L947.5,312.6L948.1,314.1L948.7,312.2L949.2,313.3L949.8,311.7L950.4,313.9L951.0,313.9L951.6,300.9L952.2,313.8L952.8,312.5L953.3,313.7L953.9,312.7L954.5,312.1L955.1,308.7L955.7,311.8L956.3,311.9L956.8,310.8L957.4,311.0L958.0,310.0L958.6,310.5L959.2,310.2L959.8,310.6L960.4,309.0L960.9,310.7L961.5,310.7L962.1,310.9L962.7,312.0L963.3,312.7L963.9,309.9L964.4,309.5L965.0,310.2L965.6,310.4L966.2,310.4L966.8,310.0L967.4,309.7L968.0,310.0L968.5,309.8L969.1,311.9L969.7,312.0L970.3,310.7L970.9,311.9L971.5,312.2L972.1,310.5L972.6,312.2L973.2,307.8L973.8,309.5L974.4,309.7L975.0,311.4L975.6,311.9L976.1,310.8L976.7,310.4L977.3,310.9L977.9,309.5L978.5,307.1L979.1,308.3L979.7,310.3L980.2,311.3L980.8,309.0L981.4,310.0L982.0,309.0L982.6,308.4L983.2,308.7L983.7,310.0L984.3,308.3L984.9,306.6L985.5,307.3L986.1,306.8L986.7,306.2L987.3,307.4L987.8,308.5L988.4,308.8L989.0,307.9L989.6,309.0L990.2,307.7L990.8,309.3L991.3,299.5L991.9,307.9L992.5,310.5L993.1,307.8L993.7,307.0L994.3,307.3L994.9,308.1L995.4,308.5L996.0,307.6L996.6,309.1L997.2,308.3L997.8,308.7L998.4,309.4L998.9,308.7L999.5,310.1L1000.1,308.3L1000.7,310.0L1001.3,307.5L1001.9,308.1L1002.5,308.0L1003.0,309.1L1003.6,304.9L1004.2,308.0L1004.8,307.5L1005.4,308.8L1006.0,306.3L1006.5,307.5L1007.1,307.1L1007.7,309.3L1008.3,304.2L1008.9,301.3L1009.5,307.7L1010.1,309.0L1010.6,309.5L1011.2,308.0L1011.8,309.3L1012.4,308.6L1013.0,306.5L1013.6,309.3L1014.1,306.5L1014.7,307.8L1015.3,308.3L1015.9,307.0L1016.5,305.7L1017.1,308.0L1017.7,307.6L1018.2,305.6L1018.8,306.4L1019.4,307.1L1020.0,304.8L1020.6,307.6L1021.2,307.3L1021.8,305.9L1022.3,306.1L1022.9,306.7L1023.5,305.5L1024.1,302.1L1024.7,304.3L1025.3,306.9L1025.8,304.4L1026.4,308.6L1027.0,306.5L1027.6,306.5L1028.2,307.0L1028.8,304.6L1029.4,305.5L1029.9,305.5L1030.5,306.4L1031.1,303.8L1031.7,306.5L1032.3,306.4L1032.9,306.7L1033.4,307.4L1034.0,306.5L1034.6,305.7L1035.2,306.3L1035.8,307.2L1036.4,309.4L1037.0,306.8L1037.5,307.5L1038.1,309.6L1038.7,310.6L1039.3,310.1L1039.9,312.2L1040.5,311.2L1041.0,313.5L1041.6,314.2L1042.2,313.8L1042.8,315.6L1043.4,314.4L1044.0,314.1" stroke="#d8982a"/>
<path d="M622.4,185.2L623.0,202.1L623.6,212.2L624.2,214.6L624.7,220.0L625.3,237.1L625.9,235.4L626.5,244.4L627.1,227.9L627.7,252.2L628.2,274.1L628.8,267.5L629.4,272.9L630.0,282.3L630.6,270.5L631.2,291.3L631.8,284.6L632.3,233.8L632.9,296.6L633.5,298.0L634.1,266.8L634.7,286.7L635.3,286.0L635.8,289.5L636.4,292.7L637.0,304.1L637.6,294.8L638.2,300.3L638.8,289.9L639.4,290.6L639.9,290.3L640.5,294.3L641.1,295.9L641.7,308.1L642.3,301.6L642.9,310.7L643.4,298.0L644.0,311.3L644.6,305.7L645.2,309.7L645.8,308.1L646.4,303.4L647.0,310.2L647.5,306.3L648.1,314.3L648.7,300.6L649.3,313.3L649.9,303.6L650.5,299.7L651.1,316.4L651.6,315.0L652.2,308.6L652.8,303.2L653.4,312.9L654.0,309.0L654.6,315.6L655.1,308.8L655.7,318.2L656.3,307.4L656.9,318.8L657.5,319.1L658.1,305.4L658.7,312.6L659.2,318.2L659.8,306.4L660.4,310.2L661.0,310.2L661.6,316.9L662.2,313.0L662.7,313.5L663.3,319.9L663.9,313.9L664.5,317.0L665.1,312.1L665.7,312.5L666.3,319.1L666.8,318.7L667.4,316.0L668.0,314.3L668.6,317.5L669.2,316.8L669.8,314.7L670.3,315.0L670.9,312.4L671.5,314.2L672.1,316.4L672.7,318.8L673.3,312.5L673.9,316.0L674.4,317.0L675.0,317.0L675.6,320.4L676.2,317.4L676.8,320.5L677.4,317.2L677.9,318.4L678.5,313.1L679.1,316.8L679.7,318.6L680.3,317.4L680.9,316.8L681.5,319.6L682.0,318.7L682.6,318.2L683.2,313.3L683.8,317.9L684.4,320.4L685.0,315.5L685.5,311.8L686.1,318.5L686.7,312.2L687.3,316.5L687.9,314.4L688.5,317.6L689.1,317.3L689.6,319.7L690.2,319.5L690.8,320.3L691.4,315.7L692.0,319.7L692.6,317.0L693.1,317.1L693.7,318.8L694.3,317.6L694.9,317.7L695.5,318.1L696.1,317.1L696.7,317.2L697.2,319.1L697.8,319.7L698.4,318.7L699.0,315.9L699.6,314.4L700.2,314.6L700.7,317.1L701.3,316.3L701.9,317.0L702.5,314.5L703.1,315.4L703.7,314.7L704.3,316.3L704.8,312.6L705.4,313.0L706.0,318.3L706.6,315.8L707.2,316.6L707.8,313.9L708.4,313.0L708.9,316.7L709.5,320.7L710.1,315.8L710.7,316.2L711.3,320.7L711.9,318.4L712.4,317.8L713.0,320.8L713.6,316.0L714.2,316.3L714.8,316.9L715.4,319.2L716.0,318.8L716.5,319.0L717.1,316.8L717.7,319.5L718.3,314.7L718.9,316.2L719.5,320.8L720.0,314.0L720.6,317.2L721.2,319.3L721.8,318.3L722.4,320.8L723.0,318.3L723.6,320.8L724.1,319.2L724.7,314.8L725.3,314.8L725.9,317.7L726.5,318.9L727.1,314.6L727.6,316.6L728.2,316.1L728.8,314.8L729.4,318.4L730.0,315.8L730.6,317.5L731.2,316.2L731.7,320.8L732.3,319.8L732.9,319.5L733.5,316.2L734.1,315.5L734.7,317.1L735.2,316.8L735.8,316.9L736.4,317.7L737.0,320.8L737.6,320.8L738.2,320.8L738.8,319.3L739.3,320.2L739.9,319.6L740.5,318.6L741.1,318.5L741.7,318.8L742.3,319.3L742.8,319.6L743.4,314.2L744.0,315.3L744.6,319.7L745.2,318.3L745.8,317.2L746.4,315.0L746.9,318.8L747.5,316.9L748.1,314.9L748.7,320.1L749.3,318.6L749.9,317.7L750.4,319.0L751.0,313.9L751.6,316.0L752.2,316.5L752.8,317.9L753.4,314.0L754.0,313.0L754.5,315.4L755.1,315.1L755.7,317.1L756.3,314.9L756.9,314.0L757.5,314.8L758.1,316.2L758.6,315.3L759.2,318.9L759.8,318.6L760.4,315.5L761.0,317.1L761.6,316.4L762.1,317.0L762.7,316.6L763.3,316.8L763.9,317.8L764.5,319.3L765.1,318.0L765.7,315.6L766.2,318.7L766.8,320.0L767.4,318.1L768.0,320.8L768.6,318.8L769.2,319.9L769.7,317.2L770.3,318.1L770.9,315.8L771.5,313.4L772.1,302.7L772.7,319.1L773.3,317.0L773.8,317.7L774.4,316.8L775.0,318.0L775.6,315.5L776.2,316.4L776.8,320.5L777.3,317.3L777.9,316.5L778.5,314.2L779.1,318.7L779.7,319.2L780.3,315.9L780.9,319.0L781.4,317.7L782.0,317.1L782.6,313.8L783.2,318.5L783.8,320.4L784.4,316.3L784.9,318.3L785.5,317.8L786.1,313.3L786.7,315.3L787.3,316.8L787.9,318.3L788.5,318.1L789.0,319.2L789.6,320.4L790.2,316.4L790.8,316.6L791.4,317.6L792.0,319.2L792.5,317.8L793.1,317.4L793.7,320.3L794.3,318.7L794.9,319.4L795.5,317.7L796.1,318.4L796.6,311.6L797.2,320.3L797.8,315.0L798.4,318.9L799.0,316.0L799.6,314.0L800.1,314.1L800.7,316.6L801.3,317.4L801.9,318.6L802.5,316.8L803.1,315.3L803.7,316.3L804.2,320.1L804.8,315.7L805.4,318.8L806.0,319.8L806.6,317.2L807.2,318.2L807.7,318.0L808.3,317.5L808.9,316.4L809.5,316.8L810.1,318.5L810.7,314.9L811.3,316.8L811.8,314.0L812.4,315.5L813.0,315.9L813.6,317.2L814.2,315.3L814.8,318.2L815.4,318.6L815.9,315.9L816.5,317.8L817.1,316.9L817.7,316.0L818.3,317.5L818.9,314.3L819.4,315.4L820.0,316.1L820.6,314.9L821.2,313.2L821.8,316.2L822.4,315.7L823.0,313.9L823.5,313.8L824.1,312.1L824.7,314.9L825.3,317.8L825.9,314.1L826.5,313.0L827.0,317.0L827.6,314.9L828.2,314.7L828.8,318.8L829.4,318.0L830.0,318.8L830.6,315.4L831.1,314.9L831.7,315.0L832.3,318.0L832.9,317.0L833.5,318.1L834.1,318.5L834.6,318.1L835.2,318.5L835.8,302.7L836.4,314.6L837.0,314.1L837.6,315.5L838.2,315.7L838.7,316.1L839.3,315.4L839.9,317.0L840.5,316.5L841.1,317.2L841.7,317.5L842.2,316.0L842.8,317.5L843.4,313.5L844.0,318.2L844.6,315.5L845.2,318.7L845.8,314.9L846.3,316.1L846.9,318.4L847.5,316.9L848.1,317.9L848.7,316.2L849.3,315.7L849.8,312.2L850.4,318.5L851.0,313.7L851.6,316.4L852.2,314.5L852.8,313.4L853.4,314.0L853.9,314.4L854.5,315.6L855.1,315.5L855.7,315.4L856.3,313.7L856.9,318.3L857.4,316.1L858.0,316.8L858.6,316.1L859.2,314.1L859.8,313.6L860.4,313.0L861.0,314.7L861.5,318.2L862.1,316.9L862.7,318.1L863.3,315.8L863.9,313.9L864.5,314.5L865.1,313.4L865.6,314.1L866.2,317.0L866.8,317.0L867.4,314.0L868.0,313.6L868.6,312.7L869.1,313.6L869.7,314.4L870.3,313.6L870.9,312.3L871.5,314.5L872.1,317.4L872.7,314.0L873.2,315.4L873.8,315.5L874.4,317.8L875.0,316.6L875.6,317.8L876.2,317.8L876.7,316.6L877.3,316.1L877.9,314.0L878.5,312.0L879.1,314.0L879.7,310.7L880.3,314.2L880.8,311.8L881.4,315.1L882.0,312.0L882.6,314.0L883.2,314.6L883.8,313.8L884.3,317.4L884.9,314.8L885.5,316.1L886.1,314.3L886.7,313.5L887.3,314.6L887.9,314.6L888.4,315.8L889.0,312.8L889.6,314.9L890.2,312.5L890.8,315.4L891.4,309.6L891.9,314.3L892.5,310.7L893.1,313.9L893.7,312.8L894.3,314.6L894.9,313.7L895.5,314.4L896.0,312.0L896.6,312.7L897.2,312.1L897.8,310.6L898.4,314.1L899.0,310.4L899.5,312.8L900.1,315.5L900.7,312.9L901.3,314.2L901.9,310.6L902.5,314.0L903.1,291.2L903.6,312.1L904.2,313.5L904.8,312.2L905.4,315.2L906.0,311.3L906.6,311.0L907.1,314.1L907.7,316.4L908.3,314.2L908.9,314.3L909.5,313.4L910.1,314.7L910.7,314.9L911.2,314.1L911.8,315.2L912.4,310.4L913.0,313.8L913.6,314.0L914.2,312.7L914.8,315.0L915.3,313.7L915.9,312.9L916.5,313.5L917.1,312.8L917.7,310.1L918.3,311.3L918.8,314.0L919.4,312.0L920.0,310.1L920.6,308.1L921.2,311.6L921.8,312.1L922.4,311.4L922.9,312.6L923.5,312.7L924.1,313.6L924.7,311.3L925.3,312.0L925.9,308.3L926.4,310.9L927.0,311.4L927.6,310.1L928.2,311.8L928.8,311.7L929.4,311.6L930.0,312.5L930.5,312.8L931.1,312.5L931.7,310.2L932.3,313.0L932.9,295.3L933.5,312.2L934.0,310.0L934.6,308.0L935.2,312.7L935.8,310.8L936.4,311.8L937.0,312.5L937.6,310.7L938.1,312.9L938.7,309.4L939.3,310.3L939.9,312.9L940.5,309.8L941.1,311.3L941.6,310.8L942.2,312.7L942.8,312.3L943.4,312.8L944.0,308.9L944.6,310.5L945.2,313.6L945.7,311.8L946.3,311.8L946.9,310.3L947.5,311.5L948.1,312.8L948.7,310.7L949.2,311.4L949.8,311.0L950.4,309.9L951.0,310.7L951.6,309.9L952.2,312.2L952.8,307.8L953.3,309.7L953.9,310.5L954.5,312.9L955.1,312.9L955.7,311.5L956.3,310.3L956.8,307.2L957.4,307.9L958.0,310.7L958.6,309.1L959.2,309.7L959.8,311.6L960.4,310.2L960.9,310.9L961.5,311.8L962.1,312.0L962.7,310.1L963.3,308.3L963.9,310.3L964.4,310.0L965.0,308.1L965.6,312.0L966.2,306.7L966.8,309.2L967.4,307.8L968.0,306.6L968.5,310.7L969.1,310.1L969.7,306.5L970.3,309.0L970.9,309.0L971.5,308.8L972.1,308.2L972.6,308.2L973.2,307.4L973.8,301.3L974.4,309.7L975.0,309.0L975.6,307.6L976.1,304.8L976.7,306.2L977.3,309.0L977.9,307.0L978.5,305.9L979.1,306.2L979.7,307.6L980.2,309.4L980.8,309.4L981.4,308.9L982.0,308.3L982.6,308.8L983.2,310.1L983.7,309.2L984.3,307.7L984.9,307.2L985.5,309.8L986.1,308.4L986.7,308.3L987.3,309.0L987.8,305.2L988.4,309.1L989.0,309.8L989.6,309.8L990.2,310.1L990.8,310.0L991.3,308.4L991.9,308.8L992.5,306.6L993.1,309.8L993.7,306.9L994.3,303.1L994.9,309.0L995.4,305.8L996.0,308.5L996.6,306.1L997.2,305.3L997.8,302.7L998.4,307.5L998.9,308.7L999.5,307.7L1000.1,306.6L1000.7,308.0L1001.3,308.0L1001.9,307.3L1002.5,306.9L1003.0,309.2L1003.6,307.2L1004.2,307.5L1004.8,305.6L1005.4,304.1L1006.0,305.9L1006.5,305.3L1007.1,308.7L1007.7,308.3L1008.3,308.9L1008.9,307.9L1009.5,307.5L1010.1,307.5L1010.6,308.5L1011.2,307.0L1011.8,307.3L1012.4,306.3L1013.0,307.5L1013.6,305.8L1014.1,306.9L1014.7,308.6L1015.3,306.8L1015.9,308.2L1016.5,305.6L1017.1,305.1L1017.7,307.1L1018.2,306.6L1018.8,308.4L1019.4,308.4L1020.0,307.9L1020.6,307.5L1021.2,307.1L1021.8,306.3L1022.3,305.7L1022.9,305.1L1023.5,304.2L1024.1,304.3L1024.7,306.0L1025.3,306.1L1025.8,305.5L1026.4,307.0L1027.0,304.4L1027.6,304.7L1028.2,305.7L1028.8,304.9L1029.4,303.2L1029.9,304.6L1030.5,295.3L1031.1,304.0L1031.7,304.9L1032.3,305.8L1032.9,305.3L1033.4,307.2L1034.0,305.7L1034.6,308.1L1035.2,306.2L1035.8,306.0L1036.4,308.3L1037.0,305.0L1037.5,308.9L1038.1,307.2L1038.7,309.4L1039.3,308.8L1039.9,310.3L1040.5,307.6L1041.0,309.8L1041.6,309.8L1042.2,311.6L1042.8,312.3L1043.4,313.7L1044.0,315.1" stroke="#8f1a63"/>
</g>
<path d="M64.0,55.2V320.8H526.8M601.9,55.2V320.8H1064.3" stroke="#383838" stroke-width="1.5" fill="none" stroke-linecap="square"/>
<path d="M73.2,320.8v4.7M622.4,320.8v4.7M133.2,320.8v4.7M680.9,320.8v4.7M193.2,320.8v4.7M739.3,320.8v4.7M253.3,320.8v4.7M797.8,320.8v4.7M313.3,320.8v4.7M856.3,320.8v4.7M373.3,320.8v4.7M914.8,320.8v4.7M433.3,320.8v4.7M973.2,320.8v4.7M493.3,320.8v4.7M1031.7,320.8v4.7M64.0,320.8h-4.7M64.0,276.5h-4.7M64.0,232.3h-4.7M64.0,188.0h-4.7M64.0,143.7h-4.7M64.0,99.5h-4.7M64.0,55.2h-4.7M601.9,320.8h-4.7M601.9,232.3h-4.7M601.9,143.7h-4.7M601.9,55.2h-4.7" stroke="#4a4a4a" stroke-width="1.2" fill="none"/>
<path d="M601.9,294.1h-2.9M601.9,278.6h-2.9M601.9,267.5h-2.9M601.9,258.9h-2.9M601.9,251.9h-2.9M601.9,246.0h-2.9M601.9,240.8h-2.9M601.9,236.3h-2.9M601.9,205.6h-2.9M601.9,190.0h-2.9M601.9,179.0h-2.9M601.9,170.4h-2.9M601.9,163.4h-2.9M601.9,157.4h-2.9M601.9,152.3h-2.9M601.9,147.8h-2.9M601.9,117.1h-2.9M601.9,101.5h-2.9M601.9,90.4h-2.9M601.9,81.9h-2.9M601.9,74.8h-2.9M601.9,68.9h-2.9M601.9,63.8h-2.9M601.9,59.3h-2.9" stroke="#383838" stroke-width="0.9" fill="none"/>
<text x="73.2" y="340.6" text-anchor="middle">0.0</text>
<text x="622.4" y="340.6" text-anchor="middle">0.0</text>
<text x="133.2" y="340.6" text-anchor="middle">0.5</text>
<text x="680.9" y="340.6" text-anchor="middle">0.5</text>
<text x="193.2" y="340.6" text-anchor="middle">1.0</text>
<text x="739.3" y="340.6" text-anchor="middle">1.0</text>
<text x="253.3" y="340.6" text-anchor="middle">1.5</text>
<text x="797.8" y="340.6" text-anchor="middle">1.5</text>
<text x="313.3" y="340.6" text-anchor="middle">2.0</text>
<text x="856.3" y="340.6" text-anchor="middle">2.0</text>
<text x="373.3" y="340.6" text-anchor="middle">2.5</text>
<text x="914.8" y="340.6" text-anchor="middle">2.5</text>
<text x="433.3" y="340.6" text-anchor="middle">3.0</text>
<text x="973.2" y="340.6" text-anchor="middle">3.0</text>
<text x="493.3" y="340.6" text-anchor="middle">3.5</text>
<text x="1031.7" y="340.6" text-anchor="middle">3.5</text>
<text x="54.4" y="325.8" text-anchor="end">3.0</text>
<text x="54.4" y="281.5" text-anchor="end">3.1</text>
<text x="54.4" y="237.3" text-anchor="end">3.2</text>
<text x="54.4" y="193.0" text-anchor="end">3.3</text>
<text x="54.4" y="148.7" text-anchor="end">3.4</text>
<text x="54.4" y="104.5" text-anchor="end">3.5</text>
<text x="54.4" y="60.2" text-anchor="end">3.6</text>
<text x="591.6" y="326.4" text-anchor="end">10<tspan dy="-5.2" font-size="9.4">−1</tspan></text>
<text x="591.6" y="237.9" text-anchor="end">10<tspan dy="-5.2" font-size="9.4">0</tspan></text>
<text x="591.6" y="149.3" text-anchor="end">10<tspan dy="-5.2" font-size="9.4">1</tspan></text>
<text x="591.6" y="60.8" text-anchor="end">10<tspan dy="-5.2" font-size="9.4">2</tspan></text>
<text x="295.4" y="359.6" text-anchor="middle">Steps</text>
<text x="833.1" y="359.6" text-anchor="middle">Steps</text>
<text x="526.8" y="358.2" text-anchor="end">1e4</text>
<text x="1064.3" y="358.2" text-anchor="end">1e4</text>
<text transform="translate(24.5,188.0) rotate(-90)" text-anchor="middle">Validation Loss</text>
<text transform="translate(550.7,188.0) rotate(-90)" text-anchor="middle">Gradient Norm</text>
<path d="M414.5,18.0H441.7" stroke="#1f6799" stroke-width="2.2" stroke-linecap="square"/>
<text x="453.5" y="23.0">BiasInit 0</text>
<path d="M414.5,38.0H441.7" stroke="#83aebd" stroke-width="2.2" stroke-linecap="square"/>
<text x="453.5" y="43.0">BiasInit -2</text>
<path d="M548.5,18.0H575.7" stroke="#d8982a" stroke-width="2.2" stroke-linecap="square"/>
<text x="587.4" y="23.0">BiasInit -5</text>
<path d="M548.5,38.0H575.7" stroke="#8f1a63" stroke-width="2.2" stroke-linecap="square"/>
<text x="587.4" y="43.0">BiasInit -10</text>
</svg>
<div class="ln" style="top:398.2px"><i>Figure 11.</i><span class="sp"></span> Effect of the Bias Initialization.<span class="s2"></span> We conduct experiments with four different input gate biases at the 160M parameter scale,</div>
<div class="ln" style="top:421.9px">with validation loss on depicted to left and gradient norm on the right, along the training steps.<span class="s2"></span> The higher input gate bias initializations</div>
<div class="ln" style="top:445.6px">show large gradient norm spikes, which results in worse training results.<span class="s2"></span> Only the lowest initialization can maintain smooth and low</div>
<div class="ln" style="top:469.3px">gradient norms with at the best validation perplexities.<span class="s2"></span> The reason for this behavior is studied in more detail in (<span class="c">Anonymous</span>, <span class="c">2025</span>).<span class="s2"></span> At</div>
<div class="ln last" style="top:493.0px">each step, the plot shows the maximum gradient norm observed within the previous 50 steps.</div>
</body>
</html>
